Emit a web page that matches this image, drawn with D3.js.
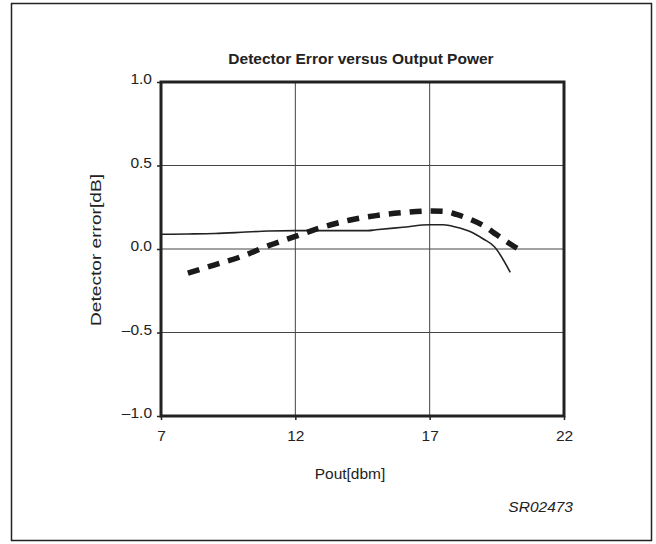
<!DOCTYPE html>
<html>
<head>
<meta charset="utf-8">
<script src="https://cdn.jsdelivr.net/npm/d3@7"></script>
<style>
  body { margin: 0; background: #fff; }
  text { font-family: "Liberation Sans", Arial, sans-serif; fill: #222; }
</style>
</head>
<body>
<svg width="656" height="544"></svg>
<script>
// data
var xTicks = [7, 12, 17, 22];
var yTicks = [-1.0, -0.5, 0.0, 0.5, 1.0];
var yTickLabels = ["\u20131.0", "\u20130.5", "0.0", "0.5", "1.0"];

var solidX = [7, 8, 9, 10, 11, 12, 13, 14, 14.7, 15, 16, 17, 17.5, 18, 18.5, 19, 19.4, 20];
var solidY = [0.088, 0.09, 0.093, 0.1, 0.108, 0.11, 0.11, 0.11, 0.11, 0.115, 0.13, 0.145, 0.145, 0.13, 0.105, 0.06, 0.015, -0.14];

var dashX = [8, 9, 10, 11, 12, 13, 14, 15, 16, 17, 17.5, 18, 18.5, 19, 19.5, 20, 20.4];
var dashY = [-0.145, -0.095, -0.045, 0.02, 0.075, 0.13, 0.172, 0.2, 0.218, 0.228, 0.226, 0.207, 0.178, 0.14, 0.085, 0.03, -0.01];

var FONT = "Liberation Sans, Arial, sans-serif";
var svg = d3.select("svg");

// outer frame
svg.append("rect")
    .attr("x", 11.5).attr("y", 3.5)
    .attr("width", 640).attr("height", 537)
    .attr("fill", "none").attr("stroke", "#222").attr("stroke-width", 1.5);

var x = d3.scaleLinear().domain([7, 22]).range([161, 564]);
var y = d3.scaleLinear().domain([-1, 1]).range([416, 82]);

// grid
svg.append("g").selectAll("line")
    .data(xTicks.slice(1, -1))
    .enter().append("line")
    .attr("x1", function(d) { return x(d); }).attr("x2", function(d) { return x(d); })
    .attr("y1", y(1)).attr("y2", y(-1))
    .attr("stroke", "#444").attr("stroke-width", 1);

svg.append("g").selectAll("line")
    .data(yTicks.slice(1, -1))
    .enter().append("line")
    .attr("x1", x(7)).attr("x2", x(22))
    .attr("y1", function(d) { return y(d); }).attr("y2", function(d) { return y(d); })
    .attr("stroke", "#444").attr("stroke-width", 1);

// axes
var xAxis = d3.axisBottom(x).tickValues(xTicks).tickSize(4).tickPadding(10);
var gx = svg.append("g").attr("transform", "translate(0," + y(-1) + ")").call(xAxis);
gx.select(".domain").remove();
gx.selectAll("line").attr("stroke", "#222").attr("stroke-width", 1.5);
gx.selectAll("text").attr("font-size", 15.5).attr("fill", "#222").attr("font-family", FONT);

var yAxis = d3.axisLeft(y).tickValues(yTicks).tickSize(4).tickPadding(5)
    .tickFormat(function(d, i) { return yTickLabels[i]; });
var gy = svg.append("g").attr("transform", "translate(" + x(7) + ",0)").call(yAxis);
gy.select(".domain").remove();
gy.selectAll("line").attr("stroke", "#222").attr("stroke-width", 1.5);
gy.selectAll("text").attr("font-size", 15.5).attr("fill", "#222").attr("font-family", FONT)
    .attr("dy", "0.12em");

// plot frame
svg.append("rect")
    .attr("x", x(7)).attr("y", y(1))
    .attr("width", x(22) - x(7)).attr("height", y(-1) - y(1))
    .attr("fill", "none").attr("stroke", "#222").attr("stroke-width", 3);

// series
var line = d3.line()
    .x(function(d) { return x(d[0]); })
    .y(function(d) { return y(d[1]); })
    .curve(d3.curveMonotoneX);

svg.append("path")
    .datum(d3.zip(solidX, solidY))
    .attr("d", line)
    .attr("fill", "none").attr("stroke", "#222").attr("stroke-width", 1.6);

svg.append("path")
    .datum(d3.zip(dashX, dashY))
    .attr("d", line)
    .attr("fill", "none").attr("stroke", "#1a1a1a").attr("stroke-width", 5.5)
    .attr("stroke-dasharray", "12,9");

// texts
svg.append("text")
    .attr("x", 361).attr("y", 64)
    .attr("text-anchor", "middle")
    .attr("font-size", 15.5).attr("font-weight", "bold")
    .text("Detector Error versus Output Power");

svg.append("text")
    .attr("transform", "translate(101,250) rotate(-90)")
    .attr("text-anchor", "middle")
    .attr("font-size", 15.5)
    .attr("textLength", 152).attr("lengthAdjust", "spacingAndGlyphs")
    .text("Detector error[dB]");

svg.append("text")
    .attr("x", 350).attr("y", 479)
    .attr("text-anchor", "middle")
    .attr("font-size", 15.5)
    .text("Pout[dbm]");

svg.append("text")
    .attr("x", 573).attr("y", 512)
    .attr("text-anchor", "end")
    .attr("font-size", 15.5).attr("font-style", "italic")
    .text("SR02473");
</script>
</body>
</html>
